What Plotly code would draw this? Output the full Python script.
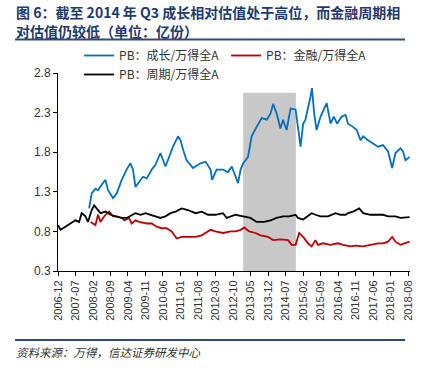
import plotly.graph_objects as go

# ---------------- data ----------------
growth_dates = ["2007-12-15","2008-01-15","2008-03-01","2008-04-01","2008-05-15","2008-07-01","2008-08-01",
    "2008-10-01","2008-11-15","2009-01-15","2009-03-15","2009-05-01","2009-06-01","2009-07-01","2009-09-01",
    "2009-10-01","2009-11-15","2010-01-15","2010-03-01","2010-05-01","2010-07-01","2010-09-01","2010-10-01",
    "2010-12-01","2011-01-01","2011-02-01","2011-03-15","2011-06-01","2011-09-01","2011-11-01","2012-01-01",
    "2012-01-20","2012-03-15","2012-06-01","2012-08-01","2012-09-15","2012-11-01","2012-12-01","2013-01-01",
    "2013-02-01","2013-04-01","2013-05-15","2013-07-15","2013-09-15","2013-11-15","2014-01-01","2014-02-01",
    "2014-03-15","2014-05-01","2014-06-01","2014-07-15","2014-09-01","2014-11-01","2014-12-01","2015-01-01",
    "2015-02-01","2015-03-01","2015-05-01","2015-05-20","2015-06-15","2015-07-15","2015-09-01","2015-10-10",
    "2015-11-15","2016-01-01","2016-02-10","2016-03-20","2016-05-15","2016-07-01","2016-08-01","2016-10-01",
    "2016-11-15","2017-01-01","2017-02-01","2017-04-01","2017-06-01","2017-08-01","2017-10-01","2017-12-01",
    "2018-01-20","2018-03-01","2018-05-01","2018-06-01","2018-07-01","2018-08-20"]
growth_pb = [1.09,1.28,1.34,1.32,1.39,1.45,1.32,
    1.22,1.28,1.45,1.58,1.66,1.58,1.36,1.45,
    1.49,1.47,1.58,1.64,1.79,1.62,1.79,1.87,
    2.00,1.95,1.83,1.70,1.60,1.66,1.68,1.58,
    1.45,1.58,1.58,1.55,1.62,1.49,1.41,1.58,
    1.66,1.74,2.00,2.12,2.23,2.21,2.29,2.41,
    2.29,2.10,2.21,2.08,2.35,2.34,2.08,1.87,
    2.16,2.21,2.50,2.61,2.29,2.08,2.25,2.33,
    2.42,2.16,2.25,2.16,2.25,2.27,2.16,2.12,
    2.08,1.95,2.00,1.95,1.91,1.87,1.89,1.81,
    1.60,1.79,1.85,1.81,1.70,1.74]

finance_dates = ["2008-01-01","2008-02-01","2008-03-01","2008-04-01","2008-05-01","2008-06-01","2008-07-01",
    "2008-08-15","2008-10-01","2008-11-15","2009-01-15","2009-02-15","2009-04-15","2009-05-15","2009-07-01",
    "2009-08-15","2009-11-15","2010-01-15","2010-03-15","2010-05-15","2010-07-15","2010-09-15","2010-11-15",
    "2011-01-15","2011-04-01","2011-07-01","2011-09-15","2012-01-01","2012-03-01","2012-06-01","2012-09-01",
    "2012-11-01","2013-01-01","2013-02-15","2013-04-15","2013-07-01","2013-09-01","2013-12-01","2014-02-01",
    "2014-05-01","2014-08-01","2014-09-15","2014-11-01","2014-12-15","2015-02-01","2015-04-01","2015-05-15",
    "2015-07-01","2015-08-01","2015-10-01","2016-01-01","2016-04-01","2016-06-01","2016-09-01","2016-11-01",
    "2017-02-01","2017-05-01","2017-08-01","2017-10-01","2017-12-01","2018-01-20","2018-03-01","2018-05-01",
    "2018-07-01","2018-08-20"]
finance_pb = [0.92,0.90,0.88,1.01,0.92,0.97,1.01,
    1.05,0.99,0.99,0.97,0.94,0.97,0.90,0.94,
    0.92,0.90,0.90,0.86,0.84,0.84,0.80,0.71,
    0.73,0.73,0.73,0.75,0.82,0.80,0.78,0.80,
    0.80,0.82,0.85,0.80,0.78,0.75,0.73,0.69,
    0.70,0.69,0.63,0.63,0.78,0.73,0.65,0.61,
    0.69,0.63,0.65,0.63,0.65,0.63,0.61,0.62,
    0.61,0.63,0.65,0.65,0.67,0.73,0.67,0.63,
    0.65,0.67]

cycle_dates = ["2006-12-01","2007-01-01","2007-03-01","2007-05-01","2007-07-01","2007-08-15","2007-09-15",
    "2007-11-01","2007-12-01","2008-01-15","2008-02-15","2008-03-15","2008-05-01","2008-07-01","2008-09-01",
    "2008-11-01","2009-01-15","2009-03-15","2009-05-15","2009-07-01","2009-09-01","2009-11-01","2010-01-01",
    "2010-03-01","2010-05-01","2010-07-01","2010-09-01","2010-11-01","2011-01-15","2011-04-01","2011-07-01",
    "2011-09-15","2011-12-01","2012-03-01","2012-06-01","2012-07-15","2012-09-15","2012-11-01","2013-02-01",
    "2013-05-01","2013-07-15","2013-10-15","2014-01-01","2014-03-15","2014-06-01","2014-08-15","2014-11-01",
    "2014-12-01","2015-02-01","2015-04-01","2015-05-15","2015-07-01","2015-09-01","2015-12-01","2016-03-01",
    "2016-05-01","2016-07-01","2016-08-01","2016-10-01","2016-12-15","2017-02-01","2017-05-01","2017-07-01",
    "2017-10-01","2017-12-01","2018-03-01","2018-05-01","2018-08-20"]
cycle_pb = [0.88,0.82,0.86,0.90,0.94,0.92,1.03,
    0.99,0.92,1.07,1.13,1.09,1.03,1.05,1.01,
    0.99,0.97,0.97,1.01,1.03,1.01,1.03,1.01,
    0.99,0.97,0.99,1.03,1.05,1.09,1.07,1.03,
    1.05,1.01,1.01,1.03,0.97,0.99,1.01,0.99,
    0.97,0.92,0.92,0.94,0.97,0.99,0.99,1.01,
    0.97,0.95,0.99,1.03,1.01,0.99,0.99,1.03,
    1.01,1.01,1.03,1.05,1.09,1.03,1.01,1.01,
    1.01,0.99,0.99,0.97,0.98]

series_names = ["PB：成长/万得全A", "PB：金融/万得全A", "PB：周期/万得全A"]

tick_labels = ["2006-12","2007-07","2008-02","2008-09","2009-04","2009-11","2010-06","2011-01",
    "2011-08","2012-03","2012-10","2013-05","2013-12","2014-07","2015-02","2015-09","2016-04",
    "2016-11","2017-06","2018-01","2018-08"]

shade_start = "2013-02-01"
shade_end = "2014-11-05"
shade_top = 2.55

title_line1 = "图 6：截至 2014 年 Q3 成长相对估值处于高位，而金融周期相"
title_line2 = "对估值仍较低（单位：亿份）"
source_text = "资料来源：万得，信达证券研发中心"

# ---------------- figure ----------------
CJK = "Noto Sans CJK SC"
PLOT_TOP, PLOT_H = 73, 198


def py(px):
    """pixel row -> paper y"""
    return (PLOT_TOP + PLOT_H - px) / PLOT_H


fig = go.Figure()
fig.add_trace(go.Scatter(x=growth_dates, y=growth_pb, mode="lines", name=series_names[0],
                         line=dict(color="#0070C0", width=1.8)))
fig.add_trace(go.Scatter(x=finance_dates, y=finance_pb, mode="lines", name=series_names[1],
                         line=dict(color="#C00000", width=1.8)))
fig.add_trace(go.Scatter(x=cycle_dates, y=cycle_pb, mode="lines", name=series_names[2],
                         line=dict(color="#000000", width=1.8)))

fig.add_shape(type="rect", xref="x", yref="y", x0=shade_start, x1=shade_end, y0=0.3, y1=shade_top,
              fillcolor="#C8C8C8", line=dict(width=0), layer="below")

# rules
fig.add_shape(type="line", xref="paper", yref="paper", x0=-0.122, x1=0.986, y0=py(39.5), y1=py(39.5),
              line=dict(color="#2F4A7A", width=2))
fig.add_shape(type="line", xref="paper", yref="paper", x0=-0.122, x1=0.986, y0=py(340), y1=py(340),
              line=dict(color="#2F4A7A", width=2))

fig.add_annotation(xref="paper", yref="paper", x=-0.125, y=py(12), xanchor="left", yanchor="middle",
                   text="<b>" + title_line1 + "</b>", showarrow=False, align="left",
                   font=dict(family=CJK, size=14, color="#1F3A6E"))
fig.add_annotation(xref="paper", yref="paper", x=-0.125, y=py(31), xanchor="left", yanchor="middle",
                   text="<b>" + title_line2 + "</b>", showarrow=False, align="left",
                   font=dict(family=CJK, size=14, color="#1F3A6E"))
fig.add_annotation(xref="paper", yref="paper", x=-0.125, y=py(352), xanchor="left", yanchor="middle",
                   text="<i>" + source_text + "</i>", showarrow=False,
                   font=dict(family=CJK, size=11.5, color="#333333"))

fig.update_layout(
    width=430, height=373,
    margin=dict(l=58, r=20, t=PLOT_TOP, b=373 - PLOT_TOP - PLOT_H, autoexpand=False),
    paper_bgcolor="white", plot_bgcolor="white",
    font=dict(family="Liberation Sans, Arial", size=12, color="#333333"),
    showlegend=True,
    legend=dict(orientation="h", x=0.06, y=py(41), xanchor="left", yanchor="top",
                entrywidth=102, font=dict(family=CJK, size=12, color="#333333"),
                bgcolor="rgba(0,0,0,0)", itemwidth=30),
    xaxis=dict(type="date", range=["2006-12-01", "2018-08-25"],
               tickvals=[t + "-01" for t in tick_labels], ticktext=tick_labels,
               tickangle=-90, ticks="outside", ticklen=4, tickcolor="#000",
               showline=True, linecolor="#000", linewidth=1, showgrid=False, zeroline=False,
               tickfont=dict(family="Liberation Sans, Arial", size=11, color="#333333")),
    yaxis=dict(range=[0.3, 2.8], tickvals=[0.3, 0.8, 1.3, 1.8, 2.3, 2.8], tickformat=".1f",
               ticks="outside", ticklen=4, tickcolor="#000",
               showline=True, linecolor="#000", linewidth=1, showgrid=False, zeroline=False,
               tickfont=dict(family="Liberation Sans, Arial", size=12, color="#333333")),
)

fig.write_html("out.html", config={"displayModeBar": False},
               post_script="document.body.style.margin='0px';document.body.style.padding='0px';")
